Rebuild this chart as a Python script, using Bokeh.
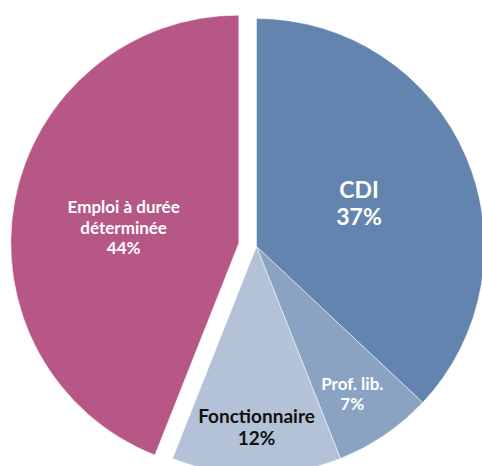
import math
from bokeh.plotting import figure
from bokeh.models import Range1d, ColumnDataSource
from bokeh.core.properties import value
from bokeh.embed import file_html
from bokeh.resources import INLINE

# ---- data ----
labels = ["CDI", "Prof. lib.", "Fonctionnaire", "Emploi à durée\ndéterminée"]
shares = [37, 7, 12, 44]
colors = ["#6384af", "#8ba3c3", "#b3c2d7", "#b65786"]
text_colors = ["white", "white", "#111111", "white"]
font_sizes = ["23px", "17px", "19px", "17px"]
explode = [0, 0, 0, 18]             # px offset of slice
label_r = [0.49, 0.77, 0.79, 0.51]  # label radius as fraction of R
label_turn = [0.0, -0.02, 0.0, 0.05]  # small angular nudge of labels (rad)

R = 228
W, H = 482, 466
cx, cy = 256, 246  # pie centre in px from top-left of figure

p = figure(width=W, height=H, output_backend="svg", toolbar_location=None,
           x_range=Range1d(-cx, W - cx), y_range=Range1d(-(H - cy), cy),
           min_border=0, outline_line_color=None)
p.axis.visible = False
p.grid.visible = False
p.background_fill_color = "white"
p.border_fill_color = "white"

total = sum(shares)
start = math.pi / 2
xs, ys, sa, ea, lx, ly, txt = [], [], [], [], [], [], []
for lab, s, ex, lr, lt in zip(labels, shares, explode, label_r, label_turn):
    span = 2 * math.pi * s / total
    end = start - span
    mid = (start + end) / 2
    ox, oy = ex * math.cos(mid), ex * math.sin(mid)
    xs.append(ox); ys.append(oy); sa.append(end); ea.append(start)
    la = mid + lt
    lx.append(ox + lr * R * math.cos(la)); ly.append(oy + lr * R * math.sin(la))
    txt.append(f"{lab}\n{s}%")
    start = end

src = ColumnDataSource(dict(x=xs, y=ys, sa=sa, ea=ea, color=colors,
                            lx=lx, ly=ly, txt=txt, tc=text_colors, fs=font_sizes))
p.wedge(x="x", y="y", radius=R, start_angle="sa", end_angle="ea",
        fill_color="color", line_color="white", line_alpha=0.6, line_width=0.8,
        source=src)
p.text(x="lx", y="ly", text="txt", text_color="tc", text_font_size="fs",
       text_font=value("Lato"), text_font_style="bold", text_align="center",
       text_baseline="middle", text_line_height=0.96, source=src)

open("out.html", "w").write(file_html(p, INLINE))
